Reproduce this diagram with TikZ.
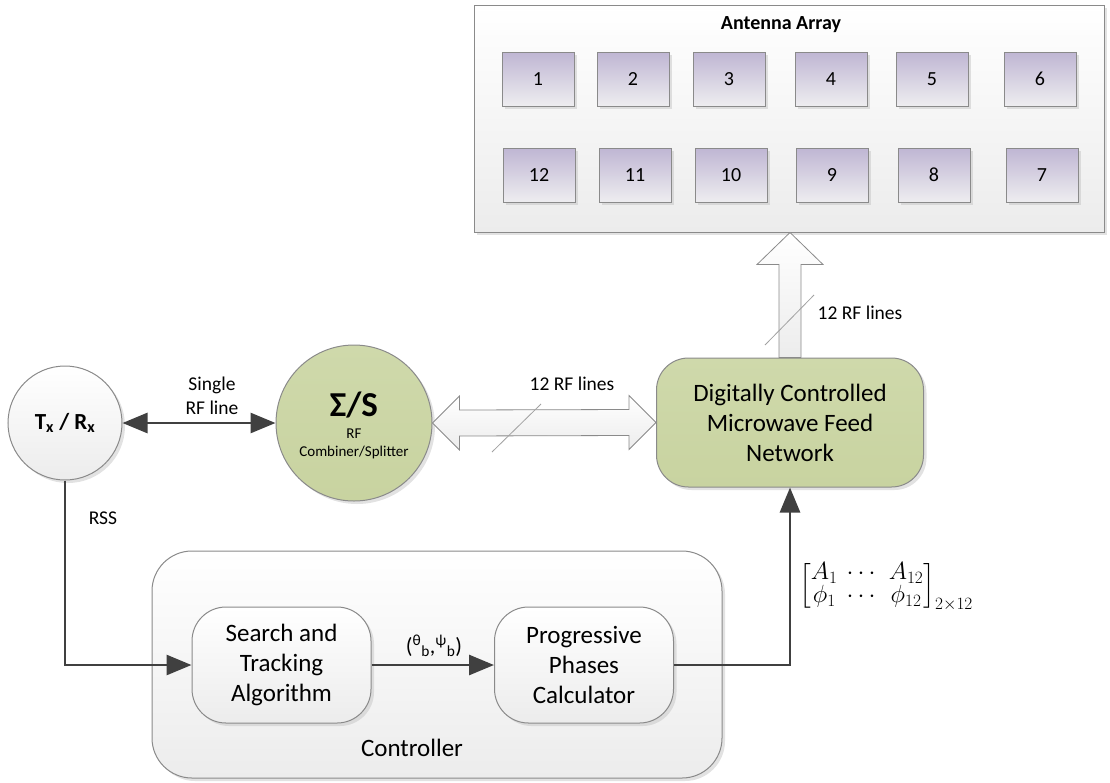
\documentclass[tikz,border=0pt]{standalone}
\usepackage{fontspec}
\setmainfont{Carlito}
\usepackage{amsmath}
\usetikzlibrary{shadows,calc,arrows.meta}

\definecolor{linegray}{HTML}{404040}
\definecolor{edgegray}{HTML}{8A8A8A}
\definecolor{feedgreen}{HTML}{C8D3A0}
\definecolor{feedgreentop}{HTML}{CFD9AB}
\definecolor{elemtop}{HTML}{BFB6D3}
\definecolor{elembot}{HTML}{EEEDF0}
\definecolor{boxbot}{HTML}{ECECEC}

\tikzset{
  softshadow/.style={drop shadow={shadow xshift=3pt, shadow yshift=-3pt, fill=black!25, opacity=.45}},
  panel/.style={draw=edgegray, line width=1pt, top color=white, bottom color=boxbot, softshadow},
  elem/.style={draw=edgegray, line width=1pt, top color=elemtop, bottom color=elembot,
    minimum width=72pt, minimum height=54pt, softshadow, font=\fontsize{20}{24}\selectfont},
  greenblock/.style={draw=edgegray, line width=1pt, top color=feedgreentop, bottom color=feedgreen, softshadow},
  procbox/.style={panel, rounded corners=34pt, minimum width=179pt, minimum height=116pt,
    align=center, font=\fontsize{25}{30}\selectfont},
  conn/.style={draw=linegray, line width=2.8pt, -{Triangle[length=25pt,width=20pt]}},
  biconn/.style={draw=linegray, line width=2.8pt, {Triangle[length=25pt,width=20pt]}-{Triangle[length=25pt,width=20pt]}},
  blockarrow/.style={draw=edgegray, line width=0.8pt, top color=white, bottom color=boxbot},
  slash/.style={draw=edgegray!80, line width=0.8pt},
  lbl/.style={font=\fontsize{19.5}{24}\selectfont, align=center},
}

\begin{document}
\begin{tikzpicture}[x=1pt,y=-1pt]
\useasboundingbox (0,0) rectangle (1110,782);

% antenna array panel
\node[panel, minimum width=630pt, minimum height=227pt, inner sep=0pt] (array) at (789,118.5) {};
\node[font=\bfseries\fontsize{20}{24}\selectfont] (arraytitle) at (781,25) {Antenna Array};
\foreach \n/\x/\y in {1/538/79, 2/633/79, 3/729/79, 4/831/79, 5/932/79, 6/1040/79,
                      12/539/175, 11/635/175, 10/731/175, 9/832/175, 8/934/175, 7/1042/175}
  \node[elem] (a\n) at (\x,\y) {\n};

% feed network
\node[greenblock, rounded corners=32pt, minimum width=267pt, minimum height=129pt,
      align=center, font=\fontsize{25}{30}\selectfont] (dcmf) at (790,422.5)
  {Digitally Controlled\\Microwave Feed\\Network};

% transceiver and combiner
\node[circle, draw=edgegray, line width=1pt, top color=white, bottom color=boxbot,
      minimum size=114pt, inner sep=0pt, softshadow,
      font=\bfseries\fontsize{23}{27}\selectfont] (tx) at (65,423)
  {T\textsubscript{x} / R\textsubscript{x}};
\node[circle, greenblock, minimum size=156pt, inner sep=0pt] (sig) at (354,423) {};
\node[font=\bfseries\fontsize{35}{40}\selectfont] (sigsym) at (354,405) {Σ/S};
\node[font=\fontsize{15}{18}\selectfont, align=center] (sigtxt) at (354,444) {RF\\Combiner/Splitter};

% controller
\node[panel, rounded corners=40pt, minimum width=570pt, minimum height=227pt] (ctrl) at (437,664.5) {};
\node[font=\fontsize{25}{30}\selectfont] (ctrltxt) at (412,748) {Controller};
\node[procbox] (search) at (281.5,665) {Search and\\Tracking\\Algorithm};
\node[procbox] (prog) at (584,665) {Progressive\\Phases\\Calculator};

% single RF line
\draw[biconn] (tx.east) -- (sig.west);
\node[lbl] (singlelbl) at (212,396) {Single\\RF line};

% 12 RF lines between combiner and feed network
\coordinate (lt) at (sig.east);
\coordinate (rt) at (dcmf.west);
\path[blockarrow] (lt) -- ($(lt)+(27,-27)$) -- ($(lt)+(27,-13)$) -- ($(rt)+(-27,-13)$)
  -- ($(rt)+(-27,-27)$) -- (rt) -- ($(rt)+(-27,27)$) -- ($(rt)+(-27,13)$)
  -- ($(lt)+(27,13)$) -- ($(lt)+(27,27)$) -- cycle;
\draw[slash] (492,452) -- (541,404);
\node[lbl] (hlbl) at (572,384) {12 RF lines};

% 12 RF lines up to the array
\coordinate (ub) at (dcmf.north);
\coordinate (ut) at (array.south -| dcmf.north);
\path[blockarrow] (ut) -- ($(ut)+(33,32)$) -- ($(ut)+(11,32)$) -- ($(ub)+(11,0)$)
  -- ($(ub)+(-11,0)$) -- ($(ut)+(-11,32)$) -- ($(ut)+(-33,32)$) -- cycle;
\draw[slash] (765,345) -- (814,295);
\node[lbl] (vlbl) at (860,313) {12 RF lines};

% signal paths
\draw[conn] (tx.south) |- (search.west);
\node[lbl] (rsslbl) at (103,518) {RSS};
\draw[conn] (search.east) -- (prog.west);
\node[font=\fontsize{22}{24}\selectfont] (anglbl) at (434,646)
  {(\textsuperscript{θ}\textsubscript{b},\textsuperscript{ψ}\textsubscript{b})};
\draw[conn] (prog.east) -| (dcmf.south);
\node[font=\fontsize{24}{28.8}\selectfont, anchor=west, inner sep=0pt] (mtx) at (799,587)
  {{\arraycolsep=4.5pt\renewcommand\arraystretch{0.7}$\begin{bmatrix} A_1 & \cdots & A_{12}\\ \phi_1 & \cdots & \phi_{12}\end{bmatrix}_{2\times 12}$}};
\end{tikzpicture}
\end{document}
